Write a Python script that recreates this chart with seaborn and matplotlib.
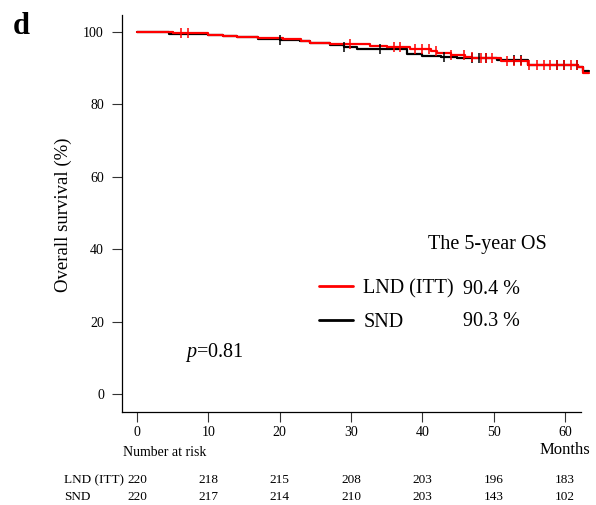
import numpy as np
import matplotlib
matplotlib.use("Agg")
import matplotlib.pyplot as plt
import matplotlib.transforms as mtrans
from matplotlib.lines import Line2D
import seaborn as sns

# ==========================================
# DATA
# ==========================================
lnd_times = [0, 5.1, 10, 12.1, 14, 17, 20.5, 23, 24.3, 27, 32.7, 35, 38.3,
             41.2, 42, 44, 46, 47, 51, 54.8, 61.8, 62.5, 63.4]
lnd_surv = [100, 99.6, 99.3, 99.0, 98.7, 98.4, 98.1, 97.5, 97.1, 96.6, 96.1,
            95.8, 95.3, 94.8, 94.1, 93.6, 93.2, 92.7, 92.0, 91.0, 90.4, 88.8, 88.8]
lnd_censor = [6.1, 7.1, 29.9, 36, 36.9, 38.9, 40, 40.9, 41.9, 44, 45.8, 46.9,
              48.2, 48.9, 49.8, 51.8, 52.8, 53.8, 54.9, 56.1, 57, 57.9, 58.9,
              59.8, 60.8, 61.7]

snd_times = [0, 4.5, 10, 12.1, 14, 17, 20, 22.8, 24.3, 27, 29, 30.9, 37.9,
             40, 42.6, 44.9, 50.5, 54.8, 61.8, 62.5, 63.4]
snd_surv = [100, 99.4, 99.2, 98.9, 98.6, 98.1, 97.8, 97.4, 96.9, 96.4, 95.9,
            95.3, 93.8, 93.4, 93.0, 92.7, 92.3, 91.0, 90.3, 89.2, 89.2]
snd_censor = [20, 29, 34, 43, 47, 47.9, 48.9, 52.9, 53.8, 58.9, 59.9, 61.7]

groups = ["LND (ITT)", "SND"]
five_year_os = [90.4, 90.3]
colors = ["#ff0000", "#000000"]

risk_months = [0, 10, 20, 30, 40, 50, 60]
risk_lnd = [220, 218, 215, 208, 203, 196, 183]
risk_snd = [220, 217, 214, 210, 203, 143, 102]

x_ticks = [0, 10, 20, 30, 40, 50, 60]
y_ticks = [0, 20, 40, 60, 80, 100]

# ==========================================
# STYLE
# ==========================================
sns.set_theme(style="ticks")
plt.rcParams["font.family"] = ["Liberation Serif", "DejaVu Serif"]
plt.rcParams["mathtext.fontset"] = "custom"
plt.rcParams["mathtext.it"] = "Liberation Serif:italic"
plt.rcParams["mathtext.rm"] = "Liberation Serif"
plt.rcParams["text.color"] = "black"
plt.rcParams["axes.labelcolor"] = "black"

W, H = 596, 505
fig = plt.figure(figsize=(W / 100, H / 100), dpi=100)


def fx(px):
    return px / W


def fy(py):
    return 1 - py / H


ax = fig.add_axes([fx(122), fy(412), fx(590) - fx(122), fy(15) - fy(412)])
ax.set_xlim(-2.1, 63.5)
ax.set_ylim(-4.97, 104.7)


def surv_at(times, surv, t):
    idx = np.searchsorted(times, t, side="right") - 1
    return np.asarray(surv)[idx]


# SND first so red sits on top
for times, surv, cens, col in [(snd_times, snd_surv, snd_censor, colors[1]),
                               (lnd_times, lnd_surv, lnd_censor, colors[0])]:
    sns.lineplot(x=times, y=surv, drawstyle="steps-post", color=col,
                 linewidth=1.6, estimator=None, sort=False, ax=ax)
    sns.scatterplot(x=cens, y=surv_at(times, surv, cens), marker="|",
                    s=50, color=col, linewidth=1.1, ax=ax, zorder=3)

# axes styling (R-like L box)
for s in ["top", "right"]:
    ax.spines[s].set_visible(False)
ax.spines["bottom"].set_bounds(-2.1, 62.2)
for s in ["left", "bottom"]:
    ax.spines[s].set_linewidth(0.9)
    ax.spines[s].set_color("black")
ax.set_xticks(x_ticks)
ax.set_xticklabels([str(v) for v in x_ticks])
ax.set_yticks(y_ticks)
ax.set_yticklabels([str(v) for v in y_ticks])
ax.tick_params(axis="both", direction="out", length=7, width=0.8,
               color="#333333", labelsize=10, labelcolor="black")
ax.tick_params(axis="x", pad=3)
ax.tick_params(axis="y", pad=6)
ax.set_xlabel("")
ax.set_ylabel("Overall survival (%)", fontsize=13.5)
ax.yaxis.set_label_coords(fx(63), fy(215), transform=fig.transFigure)
ax.yaxis.label.set_va("center")

# legend
handles = [Line2D([], [], color=c, linewidth=2) for c in colors]
leg = ax.legend(handles, groups, loc="upper left", frameon=False,
                fontsize=14.5, handlelength=1.7, handletextpad=0.5,
                labelspacing=0.72, borderpad=0, borderaxespad=0,
                bbox_to_anchor=(fx(319), fy(279)),
                bbox_transform=fig.transFigure)
fig.text(fx(428), fy(244), "The 5-year OS", fontsize=14.5, va="center", ha="left")
for val, ypx in zip(five_year_os, [289, 322]):
    fig.text(fx(463), fy(ypx), f"{val} %", fontsize=14.5, va="center", ha="left")

fig.text(fx(185), fy(352), "$p$=0.81", fontsize=14.5, va="center", ha="left")
fig.text(fx(13), fy(27), "d", fontsize=22, fontweight="bold", va="center", ha="left")

# number at risk table
blend = mtrans.blended_transform_factory(ax.transData, fig.transFigure)
fig.text(fx(123), fy(452), "Number at risk", fontsize=10, va="center", ha="left")
fig.text(fx(590), fy(450), "Months", fontsize=12, va="center", ha="right")
for name, counts, ypx in [(groups[0], risk_lnd, 480), (groups[1], risk_snd, 497)]:
    fig.text(fx(64), fy(ypx), name, fontsize=9.5, va="center", ha="left")
    for m, n in zip(risk_months, counts):
        ax.text(m, fy(ypx), str(n), transform=blend, fontsize=9.5,
                va="center", ha="center")

fig.savefig("out.png", dpi=100)
